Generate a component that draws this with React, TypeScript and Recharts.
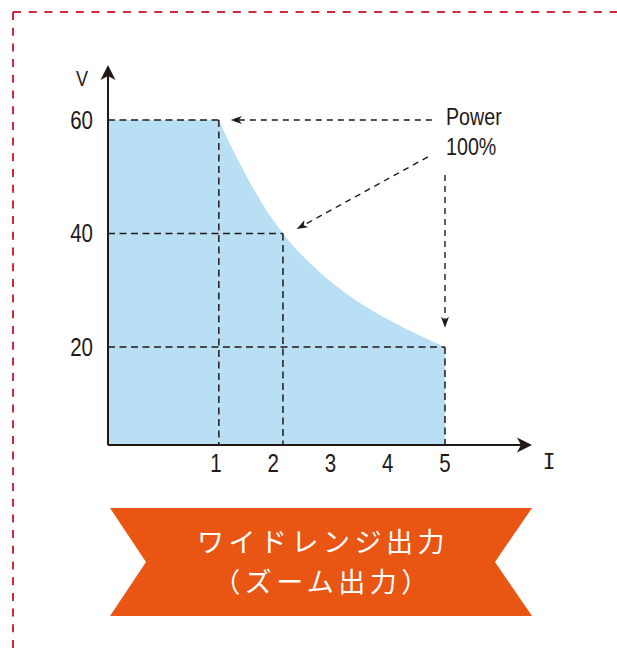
import React from 'react';
import {
  ComposedChart,
  Area,
  XAxis,
  YAxis,
  ReferenceLine,
} from 'recharts';

// axis ranges (the schematic does not start at zero)
const X_MIN = -0.886;
const X_MAX = 6.52;
const Y_MIN = 2.73;
const Y_MAX = 69.7;

const xTicks = [1, 2, 3, 4, 5];
const yTicks = [20, 40, 60];

// constant-voltage part
const flatI = [X_MIN, 1.05];
const flatV = [60, 60];

// constant-power curve
const curveI = [1.05, 1.21, 1.42, 1.59, 1.8, 1.98, 2.17, 2.69, 3.29, 3.87, 4.44, 5];
const curveV = [60, 56.5, 52.3, 49.1, 45.4, 42.6, 40, 34.3, 29.3, 25.6, 22.6, 20];

// corner points marked with dashed guides
const markI = [1.05, 2.17, 5];
const markV = [60, 40, 20];

// "Power 100%" arrows: start and end (data units)
const arrowFromI = [4.77, 4.7, 5.0];
const arrowFromV = [60, 53.5, 50.3];
const arrowToI = [1.26, 2.41, 5.0];
const arrowToV = [60, 40.8, 23.4];

const INK = '#231815';
const FILL = '#b8dff3';
const ORANGE = '#e95513';
const RED = '#d22a3c';
const SANS = "'Liberation Sans', Arial, sans-serif";
const SQUEEZE = 0.82;

const flatData = flatI.map((i, k) => ({ i, v: flatV[k] }));
const curveData = curveI.map((i, k) => ({ i, v: curveV[k] }));

function arrowHead(x1: number, y1: number, x2: number, y2: number, len: number, half: number, notch: number) {
  const d = Math.hypot(x2 - x1, y2 - y1) || 1;
  const ux = (x2 - x1) / d;
  const uy = (y2 - y1) / d;
  const bx = x2 - ux * len;
  const by = y2 - uy * len;
  const nx = x2 - ux * (len - notch);
  const ny = y2 - uy * (len - notch);
  const pts = [
    [x2, y2],
    [bx - uy * half, by + ux * half],
    [nx, ny],
    [bx + uy * half, by - ux * half],
  ];
  return { pts: pts.map((p) => p.join(',')).join(' '), sx: nx, sy: ny };
}

const DashArrow = (props: any) => {
  const { x1, y1, x2, y2 } = props;
  const h = arrowHead(x1, y1, x2, y2, 11, 4, 3);
  return (
    <g>
      <line x1={x1} y1={y1} x2={h.sx} y2={h.sy} stroke={INK} strokeWidth={1.4} strokeDasharray="6 5" />
      <polygon points={h.pts} fill={INK} />
    </g>
  );
};

const AxisArrow = (props: any) => {
  const { x1, y1, x2, y2 } = props;
  const h = arrowHead(x1, y1, x2, y2, 15, 7.5, 4);
  return (
    <g>
      <line x1={x1} y1={y1} x2={h.sx} y2={h.sy} stroke={INK} strokeWidth={2} />
      <polygon points={h.pts} fill={INK} />
    </g>
  );
};

// narrow text: regular sans squeezed horizontally
const NarrowText = ({ x, y, size, anchor, dy, children }: any) => (
  <text
    transform={`translate(${x},${y}) scale(${SQUEEZE},1)`}
    x={0}
    y={0}
    dy={dy}
    textAnchor={anchor}
    fontSize={size}
    fontFamily={SANS}
    fill={INK}
  >
    {children}
  </text>
);

const XTick = (props: any) => (
  <NarrowText x={props.x} y={props.y} size={25} anchor="middle" dy="0.71em">
    {props.payload.value}
  </NarrowText>
);

const YTick = (props: any) => (
  <NarrowText x={props.x} y={props.y} size={25} anchor="end" dy="0.355em">
    {props.payload.value}
  </NarrowText>
);

export default function App() {
  return (
    <div style={{ position: 'absolute', left: 0, top: 0, width: 617, height: 651, background: '#fff' }}>
      <ComposedChart width={617} height={500} margin={{ top: 65, right: 85, bottom: 25, left: 48 }}>
        <XAxis
          type="number"
          dataKey="i"
          domain={[X_MIN, X_MAX]}
          ticks={xTicks}
          allowDataOverflow
          axisLine={false}
          tickLine={false}
          tickSize={0}
          tickMargin={9}
          height={30}
          tick={<XTick />}
        />
        <YAxis
          type="number"
          domain={[Y_MIN, Y_MAX]}
          ticks={yTicks}
          allowDataOverflow
          axisLine={false}
          tickLine={false}
          tickSize={0}
          tickMargin={15}
          width={60}
          tick={<YTick />}
        />
        <Area
          data={flatData}
          dataKey="v"
          type="linear"
          stroke="none"
          fill={FILL}
          fillOpacity={1}
          baseValue="dataMin"
          isAnimationActive={false}
        />
        <Area
          data={curveData}
          dataKey="v"
          type="monotone"
          stroke="none"
          fill={FILL}
          fillOpacity={1}
          baseValue="dataMin"
          isAnimationActive={false}
        />
        {markI.map((mi, k) => (
          <ReferenceLine
            key={`h${k}`}
            segment={[{ x: X_MIN, y: markV[k] }, { x: mi, y: markV[k] }]}
            stroke={INK}
            strokeWidth={1.5}
            strokeDasharray="7 4.5"
            ifOverflow="visible"
          />
        ))}
        {markI.map((mi, k) => (
          <ReferenceLine
            key={`v${k}`}
            segment={[{ x: mi, y: markV[k] }, { x: mi, y: Y_MIN }]}
            stroke={INK}
            strokeWidth={1.5}
            strokeDasharray="7 4.5"
            ifOverflow="visible"
          />
        ))}
        {arrowFromI.map((fi, k) => (
          <ReferenceLine
            key={`a${k}`}
            segment={[{ x: fi, y: arrowFromV[k] }, { x: arrowToI[k], y: arrowToV[k] }]}
            ifOverflow="visible"
            shape={DashArrow}
          />
        ))}
        <ReferenceLine
          segment={[{ x: X_MIN, y: Y_MIN }, { x: X_MAX, y: Y_MIN }]}
          ifOverflow="visible"
          shape={AxisArrow}
        />
        <ReferenceLine
          segment={[{ x: X_MIN, y: Y_MIN }, { x: X_MIN, y: Y_MAX }]}
          ifOverflow="visible"
          shape={AxisArrow}
        />
      </ComposedChart>

      <svg
        width={617}
        height={651}
        style={{ position: 'absolute', left: 0, top: 0, pointerEvents: 'none' }}
      >
        <line x1={13} y1={12} x2={617} y2={12} stroke={RED} strokeWidth={2} strokeDasharray="8 7.7" />
        <line x1={13} y1={12} x2={13} y2={651} stroke={RED} strokeWidth={2} strokeDasharray="8 7.7" />

        <NarrowText x={82} y={86} size={22} anchor="middle">V</NarrowText>
        <text x={549} y={469} textAnchor="middle" fontSize={21} fontFamily="'DejaVu Sans Mono', monospace" fill={INK}>I</text>
        <NarrowText x={446} y={125} size={24} anchor="start">Power</NarrowText>
        <NarrowText x={446} y={155} size={24} anchor="start">100%</NarrowText>

        <polygon points="110,508 532,508 495,562 532,616 110,616 146,562" fill={ORANGE} />
        <text
          x={323}
          y={552}
          textAnchor="middle"
          fontSize={27}
          letterSpacing={4.5}
          fontFamily="'Noto Sans CJK JP', sans-serif"
          fill="#fff"
        >
          ワイドレンジ出力
        </text>
        <text
          x={323}
          y={592}
          textAnchor="middle"
          fontSize={27}
          letterSpacing={4.5}
          fontFamily="'Noto Sans CJK JP', sans-serif"
          fill="#fff"
        >
          （ズーム出力）
        </text>
      </svg>
    </div>
  );
}
